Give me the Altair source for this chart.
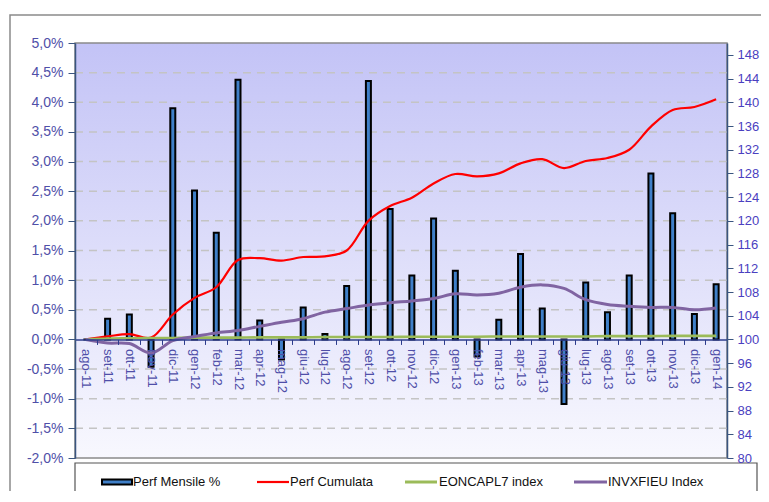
import altair as alt
import pandas as pd

months = ["ago-11", "set-11", "ott-11", "nov-11", "dic-11", "gen-12", "feb-12", "mar-12",
          "apr-12", "mag-12", "giu-12", "lug-12", "ago-12", "set-12", "ott-12", "nov-12",
          "dic-12", "gen-13", "feb-13", "mar-13", "apr-13", "mag-13", "giu-13", "lug-13",
          "ago-13", "set-13", "ott-13", "nov-13", "dic-13", "gen-14"]

perf_mensile = [0.0, 0.35, 0.42, -0.46, 3.90, 2.51, 1.80, 4.38, 0.32, -0.34, 0.54, 0.09,
                0.90, 4.36, 2.20, 1.08, 2.04, 1.16, -0.29, 0.33, 1.44, 0.52, -1.09, 0.96,
                0.46, 1.08, 2.80, 2.13, 0.43, 0.93]

perf_cumulata = [100.0, 100.5, 100.9, 100.3, 104.2, 107.0, 108.8, 113.4, 113.7, 113.3, 113.9, 114.0,
                 115.0, 120.0, 122.5, 123.9, 126.3, 127.9, 127.5, 128.0, 129.7, 130.4, 128.9, 130.1,
                 130.6, 132.0, 135.9, 138.7, 139.2, 140.5]

eoncapl7 = [100.0, 100.15, 100.2, 100.25, 100.25, 100.3, 100.3, 100.3, 100.35, 100.35, 100.35, 100.4,
            100.4, 100.4, 100.4, 100.45, 100.45, 100.45, 100.45, 100.5, 100.5, 100.5, 100.5, 100.5,
            100.55, 100.55, 100.55, 100.6, 100.6, 100.6]

invxfieu = [100.0, 99.4, 99.3, 97.7, 99.8, 100.5, 101.1, 101.5, 102.2, 102.9, 103.5, 104.6,
            105.2, 105.8, 106.2, 106.5, 106.9, 107.7, 107.5, 107.8, 108.8, 109.2, 108.6, 106.7,
            105.9, 105.6, 105.4, 105.4, 105.0, 105.3]

series_names = ["Perf Mensile %", "Perf Cumulata", "EONCAPL7 index", "INVXFIEU Index"]
left_ticks = [-2.0, -1.5, -1.0, -0.5, 0.0, 0.5, 1.0, 1.5, 2.0, 2.5, 3.0, 3.5, 4.0, 4.5, 5.0]
grid_levels = [-1.5, -1.0, -0.5, 0.5, 1.0, 1.5, 2.0, 2.5, 3.0, 3.5, 4.0, 4.5]
right_ticks = list(range(80, 149, 4))

BAR_FILL = "#3f7fc8"
RED = "#ff0000"
GREEN = "#9bbb59"
PURPLE = "#8064a2"
FONT = "Liberation Sans"
LEFT_LAB = "#4f4fa8"
RIGHT_LAB = "#4a40c0"
AXIS_COL = "#3a5580"

W, H = 652, 415

df_bars = pd.DataFrame({"month": months, "perf": perf_mensile})
df_grid = pd.DataFrame({"level": grid_levels})
rows = []
for name, vals in [(series_names[1], perf_cumulata), (series_names[2], eoncapl7), (series_names[3], invxfieu)]:
    for m, v in zip(months, vals):
        rows.append({"month": m, "series": name, "value": v})
df_lines = pd.DataFrame(rows)

one = alt.Data(values=[{"k": 1}])

# outer frame
frame = alt.Chart(one).mark_rect(fill="white", stroke="#8a8a8a", strokeWidth=1.5).encode(
    x=alt.value(-65), x2=alt.value(760), y=alt.value(-28), y2=alt.value(600)
)

# plot area gradient
bg = alt.Chart(one).mark_rect(
    fill={"gradient": "linear", "x1": 0, "x2": 0, "y1": 0, "y2": 1,
          "stops": [{"offset": 0, "color": "#c3c3f6"}, {"offset": 1, "color": "#f8f8fe"}]},
    stroke="#8a8a8a", strokeWidth=1.5
).encode(x=alt.value(0), x2=alt.value(W), y=alt.value(0), y2=alt.value(H))

x_axis = alt.Axis(
    orient="bottom", offset=-(H * 2 / 7), title=None, labelAngle=90, labelOverlap=False,
    labelFont=FONT, labelFontSize=13, labelColor=LEFT_LAB, labelPadding=4,
    domainColor="#2c3c8c", domainWidth=1.5, tickColor="#2c3c8c", tickSize=5,
    tickBand="extent", grid=False, zindex=1
)
y_left_axis = alt.Axis(
    orient="left", values=left_ticks, title=None, zindex=1,
    labelExpr="replace(replace(format(datum.value, '.1f'), '.', ','), '\u2212', '-') + '%'",
    labelFont=FONT, labelFontSize=14, labelColor=LEFT_LAB, labelPadding=5,
    domainColor=AXIS_COL, domainWidth=1.5, tickColor=AXIS_COL, tickSize=7, grid=False
)
x_scale = alt.Scale(paddingInner=0, paddingOuter=0)
y_left_scale = alt.Scale(domain=[-2, 5], nice=False)

grid = alt.Chart(df_grid).mark_rule(color="#c4c4c4", strokeDash=[8, 6], strokeWidth=1.5).encode(
    y=alt.Y("level:Q", scale=y_left_scale, axis=y_left_axis)
)

bars = alt.Chart(df_bars).mark_bar(size=5, fill=BAR_FILL, stroke="black", strokeWidth=2).encode(
    x=alt.X("month:N", sort=months, scale=x_scale, axis=x_axis),
    y=alt.Y("perf:Q", scale=y_left_scale, axis=y_left_axis)
)

left_group = alt.layer(grid, bars)

lines = alt.Chart(df_lines).mark_line(interpolate="catmull-rom").encode(
    x=alt.X("month:N", sort=months, scale=x_scale, axis=x_axis),
    y=alt.Y("value:Q", scale=alt.Scale(domain=[80, 150], nice=False, zero=False),
            axis=alt.Axis(orient="right", values=right_ticks, title=None, zindex=1,
                          labelFont=FONT, labelFontSize=13, labelColor=RIGHT_LAB, labelPadding=4,
                          domainColor=AXIS_COL, domainWidth=1.5, tickColor=AXIS_COL, tickSize=6,
                          grid=False)),
    color=alt.Color("series:N", scale=alt.Scale(domain=series_names[1:], range=[RED, GREEN, PURPLE]), legend=None),
    strokeWidth=alt.StrokeWidth("series:N", scale=alt.Scale(domain=series_names[1:], range=[2.2, 3, 3]), legend=None),
)

# legend box and entries
LY = 439
leg_box = alt.Chart(one).mark_rect(fill="white", stroke="#555555", strokeWidth=1.2).encode(
    x=alt.value(0), x2=alt.value(682), y=alt.value(420), y2=alt.value(470)
)
leg_bar = alt.Chart(one).mark_rect(fill=BAR_FILL, stroke="black", strokeWidth=2).encode(
    x=alt.value(27), x2=alt.value(57), y=alt.value(LY - 2.5), y2=alt.value(LY + 2.5)
)
leg_red = alt.Chart(one).mark_rule(color=RED, strokeWidth=2.2).encode(
    x=alt.value(182), x2=alt.value(214), y=alt.value(LY)
)
leg_green = alt.Chart(one).mark_rule(color=GREEN, strokeWidth=3).encode(
    x=alt.value(330), x2=alt.value(362), y=alt.value(LY)
)
leg_purple = alt.Chart(one).mark_rule(color=PURPLE, strokeWidth=3).encode(
    x=alt.value(499), x2=alt.value(532), y=alt.value(LY)
)
leg_texts = []
for label, xpos in zip(series_names, [58, 215, 364, 533]):
    leg_texts.append(
        alt.Chart(one).mark_text(align="left", baseline="middle", font=FONT, fontSize=13, color="#111111").encode(
            x=alt.value(xpos), y=alt.value(LY), text=alt.value(label)
        )
    )

chart = alt.layer(
    frame, bg, left_group, lines, leg_box, leg_bar, leg_red, leg_green, leg_purple, *leg_texts
).resolve_scale(y="independent").properties(
    width=W, height=H,
    autosize=alt.AutoSizeParams(type="none"),
    padding={"left": 67, "top": 35, "right": 34, "bottom": 33},
    background="white",
).configure_view(stroke=None)

chart.save("out.html", embed_options={"renderer": "svg", "actions": False})
